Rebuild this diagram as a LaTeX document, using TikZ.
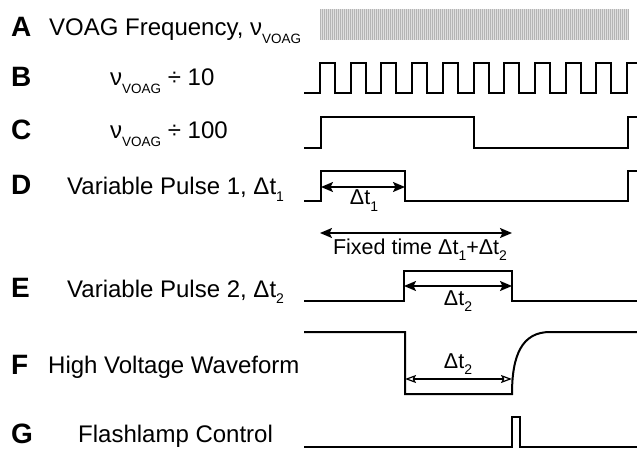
\documentclass[tikz,border=0pt]{standalone}
\usepackage{fontspec}
\setmainfont{Liberation Sans}
\usetikzlibrary{arrows.meta}
\newcommand{\lsub}[1]{\raisebox{-8pt}{\fontsize{13.5}{13.5}\selectfont #1}}
\newcommand{\dsub}[1]{\raisebox{-6.5pt}{\fontsize{14}{14}\selectfont #1}}
\begin{document}
\begin{tikzpicture}[x=1pt,y=-1pt,
  wave/.style={line width=2pt, line join=miter},
  letter/.style={anchor=base west, inner sep=0pt, font=\fontsize{28}{28}\selectfont\bfseries},
  lab/.style={anchor=base west, inner sep=0pt, font=\fontsize{24}{24}\selectfont},
  dlab/.style={anchor=base, inner sep=0pt, font=\fontsize{21.5}{21.5}\selectfont},
  dim/.style={line width=1.7pt, {Stealth[length=12pt,width=10pt,inset=2.5pt]}-{Stealth[length=12pt,width=10pt,inset=2.5pt]}},
  odim/.style={line width=1.2pt, {Stealth[open,length=11pt,width=8pt,inset=2pt]}-{Stealth[open,length=11pt,width=8pt,inset=2pt]}}
]
\useasboundingbox (0,0) rectangle (637,449);
% A band
\fill[gray!25] (320,9) rectangle (628,40);
\foreach \x in {320,322,...,628} \draw[gray!58, line width=0.5pt] (\x,9) -- (\x,40);
% B
\draw[wave] (304,93) foreach \k in {0,...,9} { -- ({320+30.7*\k},93) -- ({320+30.7*\k},63) -- ({335+30.7*\k},63) -- ({335+30.7*\k},93) } -- (627,93) -- (627,63) -- (637,63);
% C
\draw[wave] (304,148) -- (321,148) -- (321,117) -- (474,117) -- (474,148) -- (628,148) -- (628,117) -- (637,117);
% D
\draw[wave] (304,201) -- (321,201) -- (321,171) -- (405,171) -- (405,201) -- (628,201) -- (628,171) -- (637,171);
% E
\draw[wave] (304,301) -- (404,301) -- (404,271) -- (512,271) -- (512,301) -- (637,301);
% F
\draw[wave] (304,332) -- (405,332) -- (405,394) -- (512,394) .. controls (512,355) and (522,332) .. (550,332) -- (637,332);
% G
\draw[wave] (304,447) -- (512,447) -- (512,417) -- (520,417) -- (520,447) -- (637,447);
% dimension arrows
\coordinate (d1a) at (321,187); \coordinate (d1b) at (405,187);
\draw[dim] (d1a) -- (d1b);
\coordinate (fxa) at (320,233); \coordinate (fxb) at (512,233);
\draw[dim] (fxa) -- (fxb);
\coordinate (e2a) at (404,286); \coordinate (e2b) at (512,286);
\draw[dim] (e2a) -- (e2b);
\coordinate (f2a) at (405,379); \coordinate (f2b) at (512,379);
\draw[odim] (f2a) -- (f2b);
% labels
\node[letter] (A) at (11,37) {A};
\node[lab] (At) at (49,36) {VOAG Frequency, ν\lsub{VOAG}};
\node[letter] (B) at (11,87) {B};
\node[lab] (Bt) at (110,86) {ν\lsub{VOAG} ÷ 10};
\node[letter] (C) at (11,140) {C};
\node[lab] (Ct) at (110,139) {ν\lsub{VOAG} ÷ 100};
\node[letter] (D) at (11,195) {D};
\node[lab] (Dt) at (67,195) {Variable Pulse 1, Δt\dsub{1}};
\node[letter] (E) at (11,297) {E};
\node[lab] (Et) at (67,297) {Variable Pulse 2, Δt\dsub{2}};
\node[letter] (F) at (11,374) {F};
\node[lab] (Ft) at (48,373) {High Voltage Waveform};
\node[letter] (G) at (11,443) {G};
\node[lab] (Gt) at (78,442) {Flashlamp Control};
\node[dlab] (dt1) at (364,205) {Δt\dsub{1}};
\node[dlab] (fix) at (420,254) {Fixed time Δt\dsub{1}+Δt\dsub{2}};
\node[dlab] (dt2e) at (458,305) {Δt\dsub{2}};
\node[dlab] (dt2f) at (458,368) {Δt\dsub{2}};
\end{tikzpicture}
\end{document}
